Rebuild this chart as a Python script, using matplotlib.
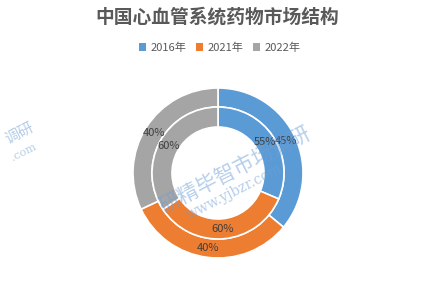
import numpy as np
import matplotlib
matplotlib.use("Agg")
import matplotlib.pyplot as plt
from matplotlib.patches import Patch

plt.rcParams['font.family'] = ['Noto Sans CJK SC', 'DejaVu Sans']

title = "中国心血管系统药物市场结构"
categories = ["2016年", "2021年", "2022年"]
inner_values = [55, 60, 60]   # inner ring, %
outer_values = [45, 40, 40]   # outer ring, %
colors = ["#5B9BD5", "#ED7D31", "#A5A5A5"]

W, H = 431, 281
fig = plt.figure(figsize=(W / 100, H / 100), dpi=100)

# donut centre and radius in pixels
cx, cy, R = 218, 173, 85
ax = fig.add_axes([(cx - R) / W, (H - cy - R) / H, 2 * R / W, 2 * R / H])
ax.set_aspect('equal')
ax.axis('off')

r_sep = 66 / R
r_hole = 46 / R
wp = dict(edgecolor='white', linewidth=1.2)

outer, _ = ax.pie(outer_values, radius=1.0, colors=colors, startangle=90,
                  counterclock=False, wedgeprops=dict(width=1.0 - r_sep, **wp))
inner, _ = ax.pie(inner_values, radius=r_sep, colors=colors, startangle=90,
                  counterclock=False, wedgeprops=dict(width=r_sep - r_hole, **wp))
ax.set_xlim(-1, 1)
ax.set_ylim(-1, 1)

for wedges, vals in ((outer, outer_values), (inner, inner_values)):
    for w, v in zip(wedges, vals):
        ang = np.deg2rad((w.theta1 + w.theta2) / 2)
        rr = w.r - w.width / 2
        ax.text(rr * np.cos(ang), rr * np.sin(ang), f"{v}%",
                ha='center', va='center', fontsize=8, color='#404040')

fig.text(0.505, 1 - 17 / H, title, ha='center', va='center', fontsize=13.5,
         fontweight='bold', color='#595959')

handles = [Patch(facecolor=c, edgecolor='none') for c in colors]
fig.legend(handles, categories, loc='center', bbox_to_anchor=(0.51, 1 - 48 / H),
           ncol=3, frameon=False, fontsize=8, handlelength=0.7, handleheight=0.7,
           handletextpad=0.4, columnspacing=0.8, labelcolor='#595959')

# faint watermark
wm = dict(color='#6E9ED6', alpha=0.5, rotation=27, ha='center', va='center')
fig.text(0.545, 1 - 170 / H, "研精毕智市场调研", fontsize=15, **wm)
fig.text(0.545, 1 - 192 / H, "www.yjbzr.com", fontsize=10, family='DejaVu Serif', **wm)
fig.text(0.045, 1 - 133 / H, "调研", fontsize=11, **wm)
fig.text(0.055, 1 - 152 / H, ".com", fontsize=8, family='DejaVu Serif', **wm)

fig.savefig("out.png", dpi=100, facecolor='white')
